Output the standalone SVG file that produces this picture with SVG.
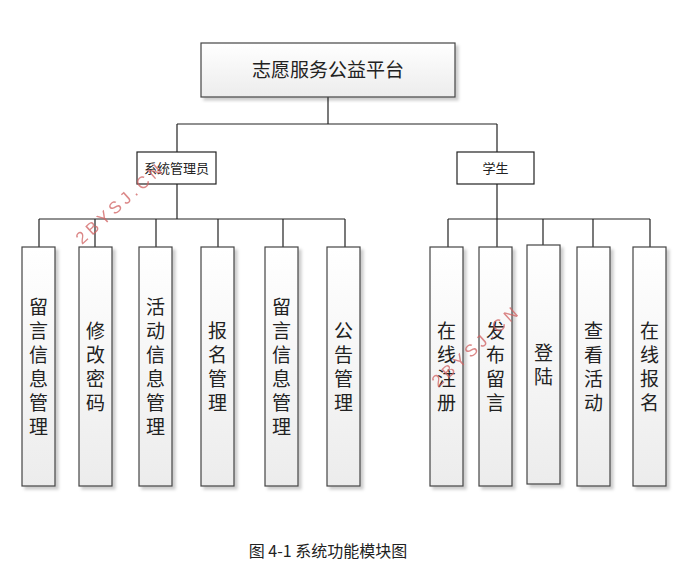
<svg xmlns="http://www.w3.org/2000/svg" width="684" height="572" viewBox="0 0 684 572">
<defs>
<linearGradient id="g" x1="0" y1="0" x2="0" y2="1"><stop offset="0" stop-color="#ffffff"/><stop offset="1" stop-color="#ececec"/></linearGradient>
<filter id="sh" x="-20%" y="-5%" width="150%" height="115%"><feDropShadow dx="3" dy="3" stdDeviation="1.5" flood-color="#000" flood-opacity="0.2"/></filter>
</defs>
<style>
.b{fill:url(#g);stroke:#444;stroke-width:1.2;filter:url(#sh)}
.w{fill:#fff;stroke:#222;stroke-width:1.2}
.t{font-family:"Noto Sans CJK SC","Noto Sans",sans-serif;fill:#222;text-anchor:middle}
.l{font-size:19px}
.c{stroke:#222;stroke-width:1.2;fill:none}
.wm{font-family:"Liberation Sans",sans-serif;font-size:17px;fill:#d06060;opacity:0.75;letter-spacing:4px}
</style>
<rect width="684" height="572" fill="#fff"/>
<g id="connectors" class="c">
<path d="M328 97V124M177 124H497M177 124V152M497 124V152"/>
<path d="M177 184V219M39 219H345M39 219V247M95 219V247M156 219V247M218 219V247M283 219V247M345 219V247"/>
<path d="M497 184V219M448 219H650M448 219V247M497 219V247M543 219V245M593 219V247M650 219V247"/>
</g>
<g id="root"><rect class="b" x="201" y="43" width="254" height="54"/><text class="t" x="328" y="77" font-size="19">志愿服务公益平台</text></g>
<g id="admin"><rect class="w" x="137" y="152" width="79" height="32"/><text class="t" x="176.5" y="173" font-size="13">系统管理员</text></g>
<g id="student"><rect class="w" x="457" y="152" width="77" height="32"/><text class="t" x="495.5" y="173" font-size="13">学生</text></g>
<g id="a1"><rect class="b" x="22" y="247" width="33" height="239"/><text class="t l" x="38.5"><tspan x="38.5" y="314">留</tspan><tspan x="38.5" y="338">言</tspan><tspan x="38.5" y="362">信</tspan><tspan x="38.5" y="386">息</tspan><tspan x="38.5" y="410">管</tspan><tspan x="38.5" y="434">理</tspan></text></g>
<g id="a2"><rect class="b" x="79" y="247" width="33" height="239"/><text class="t l"><tspan x="95.5" y="338">修</tspan><tspan x="95.5" y="362">改</tspan><tspan x="95.5" y="386">密</tspan><tspan x="95.5" y="410">码</tspan></text></g>
<g id="a3"><rect class="b" x="139" y="247" width="33" height="239"/><text class="t l"><tspan x="155.5" y="314">活</tspan><tspan x="155.5" y="338">动</tspan><tspan x="155.5" y="362">信</tspan><tspan x="155.5" y="386">息</tspan><tspan x="155.5" y="410">管</tspan><tspan x="155.5" y="434">理</tspan></text></g>
<g id="a4"><rect class="b" x="201" y="247" width="33" height="239"/><text class="t l"><tspan x="217.5" y="338">报</tspan><tspan x="217.5" y="362">名</tspan><tspan x="217.5" y="386">管</tspan><tspan x="217.5" y="410">理</tspan></text></g>
<g id="a5"><rect class="b" x="265" y="247" width="33" height="239"/><text class="t l"><tspan x="281.5" y="314">留</tspan><tspan x="281.5" y="338">言</tspan><tspan x="281.5" y="362">信</tspan><tspan x="281.5" y="386">息</tspan><tspan x="281.5" y="410">管</tspan><tspan x="281.5" y="434">理</tspan></text></g>
<g id="a6"><rect class="b" x="327" y="247" width="33" height="239"/><text class="t l"><tspan x="343.5" y="338">公</tspan><tspan x="343.5" y="362">告</tspan><tspan x="343.5" y="386">管</tspan><tspan x="343.5" y="410">理</tspan></text></g>
<g id="s1"><rect class="b" x="430" y="247" width="33" height="239"/><text class="t l"><tspan x="446.5" y="338">在</tspan><tspan x="446.5" y="362">线</tspan><tspan x="446.5" y="386">注</tspan><tspan x="446.5" y="410">册</tspan></text></g>
<g id="s2"><rect class="b" x="479" y="247" width="33" height="239"/><text class="t l"><tspan x="495.5" y="338">发</tspan><tspan x="495.5" y="362">布</tspan><tspan x="495.5" y="386">留</tspan><tspan x="495.5" y="410">言</tspan></text></g>
<g id="s3"><rect class="b" x="527" y="245" width="33" height="239"/><text class="t l"><tspan x="543.5" y="360">登</tspan><tspan x="543.5" y="384">陆</tspan></text></g>
<g id="s4"><rect class="b" x="577" y="247" width="33" height="239"/><text class="t l"><tspan x="593.5" y="338">查</tspan><tspan x="593.5" y="362">看</tspan><tspan x="593.5" y="386">活</tspan><tspan x="593.5" y="410">动</tspan></text></g>
<g id="s5"><rect class="b" x="633" y="247" width="33" height="239"/><text class="t l"><tspan x="649.5" y="338">在</tspan><tspan x="649.5" y="362">线</tspan><tspan x="649.5" y="386">报</tspan><tspan x="649.5" y="410">名</tspan></text></g>
<text class="wm" transform="translate(82,245) rotate(-42)">2BYSJ.CN</text>
<text class="wm" transform="translate(438,388) rotate(-42)">2BYSJ.CN</text>
<text x="328" y="557" text-anchor="middle" font-family="'Noto Sans CJK SC',serif" font-size="16" fill="#222">图 4-1 系统功能模块图</text>
</svg>
